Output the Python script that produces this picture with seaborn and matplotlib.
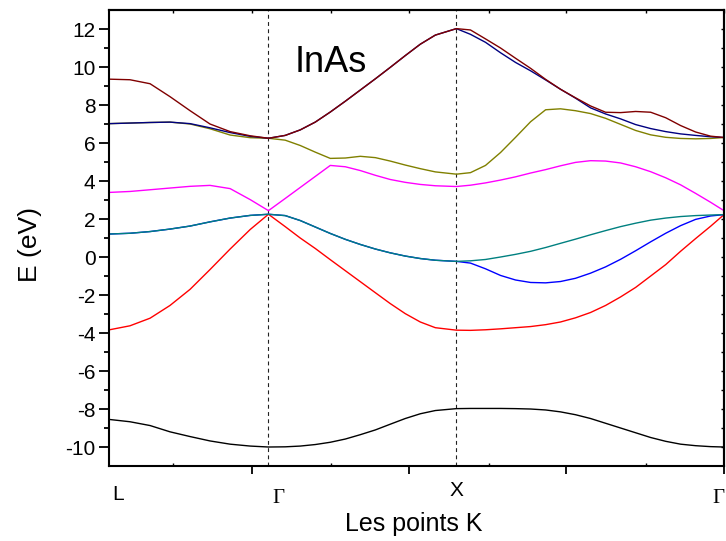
import numpy as np
import pandas as pd
import matplotlib
matplotlib.use("Agg")
import matplotlib.pyplot as plt
import seaborn as sns

# k path L - Gamma - X - Gamma (Gamma-X = 1)
k_L, k_G, k_X, k_G2 = 0.0, 0.846, 1.846, 3.270
k = [0.000, 0.109, 0.216, 0.322, 0.429, 0.535, 0.642, 0.749, 0.846,
     0.935, 1.015, 1.095, 1.175, 1.255, 1.335, 1.415, 1.494, 1.574, 1.654, 1.734, 1.846,
     1.921, 2.001, 2.081, 2.161, 2.241, 2.321, 2.400, 2.480, 2.560, 2.640, 2.720, 2.800,
     2.880, 2.960, 3.039, 3.119, 3.199, 3.270]

# energies (eV) of the eight bands along the path
band1 = [-8.55, -8.67, -8.87, -9.2, -9.45, -9.68, -9.85, -9.95, -10.0,
         -9.99, -9.95, -9.87, -9.75, -9.58, -9.35, -9.1, -8.8, -8.5, -8.25, -8.08, -7.98,
         -7.97, -7.97, -7.97, -7.98, -8.0, -8.05, -8.15, -8.3, -8.5, -8.75, -9.0, -9.25,
         -9.5, -9.7, -9.85, -9.93, -9.98, -10.0]
band2 = [-3.83, -3.62, -3.22, -2.55, -1.7, -0.66, 0.42, 1.45, 2.25,
         1.6, 1.0, 0.45, -0.14, -0.72, -1.3, -1.88, -2.45, -2.98, -3.42, -3.72, -3.85,
         -3.86, -3.83, -3.78, -3.72, -3.66, -3.56, -3.42, -3.2, -2.92, -2.55, -2.1, -1.6,
         -1.0, -0.4, 0.3, 0.97, 1.62, 2.23]
band3 = [1.21, 1.25, 1.34, 1.47, 1.63, 1.85, 2.05, 2.19, 2.25,
         2.18, 1.92, 1.58, 1.24, 0.93, 0.66, 0.42, 0.22, 0.05, -0.08, -0.17, -0.23,
         -0.32, -0.62, -0.97, -1.21, -1.34, -1.36, -1.29, -1.12, -0.85, -0.52, -0.12, 0.33,
         0.8, 1.25, 1.65, 1.98, 2.16, 2.23]
band4 = [1.21, 1.25, 1.34, 1.47, 1.63, 1.85, 2.05, 2.19, 2.25,
         2.18, 1.92, 1.58, 1.24, 0.93, 0.66, 0.42, 0.22, 0.05, -0.08, -0.17, -0.23,
         -0.2, -0.13, 0.0, 0.14, 0.3, 0.5, 0.72, 0.94, 1.17, 1.39, 1.6, 1.78,
         1.94, 2.05, 2.13, 2.18, 2.21, 2.23]
band5 = [3.40, 3.45, 3.54, 3.63, 3.72, 3.77, 3.6, 3.02, 2.44,
         3.08, 3.66, 4.24, 4.82, 4.75, 4.55, 4.3, 4.08, 3.93, 3.82, 3.75, 3.71,
         3.78, 3.9, 4.05, 4.22, 4.42, 4.6, 4.8, 4.98, 5.07, 5.05, 4.95, 4.75,
         4.49, 4.17, 3.8, 3.35, 2.88, 2.44]
band6 = [7.02, 7.05, 7.08, 7.1, 7.0, 6.75, 6.42, 6.28, 6.25,
         6.15, 5.87, 5.52, 5.19, 5.21, 5.3, 5.23, 5.05, 4.84, 4.65, 4.48, 4.36,
         4.44, 4.82, 5.5, 6.3, 7.12, 7.75, 7.8, 7.7, 7.55, 7.3, 6.98, 6.66,
         6.43, 6.3, 6.24, 6.22, 6.24, 6.29]
band7 = [7.02, 7.05, 7.08, 7.1, 7.02, 6.8, 6.55, 6.35, 6.25,
         6.4, 6.69, 7.1, 7.63, 8.2, 8.79, 9.38, 9.98, 10.6, 11.2, 11.68, 12.02,
         11.72, 11.3, 10.75, 10.24, 9.8, 9.32, 8.83, 8.36, 7.85, 7.53, 7.27, 6.97,
         6.76, 6.6, 6.48, 6.4, 6.33, 6.29]
band8 = [9.36, 9.33, 9.12, 8.44, 7.7, 7.0, 6.6, 6.38, 6.25,
         6.4, 6.69, 7.1, 7.63, 8.2, 8.79, 9.38, 9.98, 10.6, 11.2, 11.68, 12.02,
         11.95, 11.48, 11.0, 10.46, 9.93, 9.35, 8.83, 8.38, 7.95, 7.62, 7.6, 7.66,
         7.62, 7.33, 6.92, 6.58, 6.36, 6.29]

band_names = ["b1", "b2", "b3", "b4", "b5", "b6", "b7", "b8"]
band_colors = ["#000000", "#ff0000", "#0000ff", "#008080",
               "#ff00ff", "#808000", "#000080", "#800000"]

sym_labels = ["L", "\u0393", "X", "\u0393"]
x_major = [0.759, 1.596, 2.432, 3.270]
x_minor = [0.338, 1.177, 2.017, 2.857]

sns.set_theme(style="ticks")
plt.rcParams["font.family"] = ["Liberation Sans", "DejaVu Sans"]
plt.rcParams["axes.unicode_minus"] = False
plt.rcParams["axes.linewidth"] = 1.5
for key in ["text.color", "axes.labelcolor", "axes.edgecolor",
            "xtick.color", "ytick.color", "xtick.labelcolor", "ytick.labelcolor"]:
    plt.rcParams[key] = "black"

df = pd.concat([pd.DataFrame({"k": k, "E": e, "band": n})
                for n, e in zip(band_names,
                                [band1, band2, band3, band4, band5, band6, band7, band8])])

fig = plt.figure(figsize=(7.26, 5.41), dpi=100)
ax = fig.add_axes([0.1508, 0.1386, 0.9972 - 0.1508, 0.9815 - 0.1386])

sns.lineplot(data=df, x="k", y="E", hue="band", hue_order=band_names,
             palette=dict(zip(band_names, band_colors)), estimator=None,
             sort=False, legend=False, lw=1.0, ax=ax)

for xv in [k_G, k_X]:
    ax.axvline(xv, color="#222222", lw=0.8, ls=(0, (3.5, 3)), zorder=1)

ax.set_xlim(k_L, k_G2)
ax.set_ylim(-11, 13)

# x axis: unlabeled ticks, high-symmetry labels as text
ax.set_xticks(x_major)
ax.set_xticks(x_minor, minor=True)
ax.set_xticklabels([])
ax.tick_params(axis="x", which="major", direction="out", length=6, width=1.3)
ax.tick_params(axis="x", which="minor", direction="in", length=2, width=1.0)

ax.set_yticks(np.arange(-10, 13, 2))
ax.set_yticks(np.arange(-9, 13, 2), minor=True)
ax.tick_params(axis="y", which="major", direction="out", length=7, width=1.3,
               labelsize=15, pad=3)
ax.tick_params(axis="y", which="minor", direction="out", length=3.5, width=1.3)

top = ax.secondary_xaxis("top")
top.set_xticks(x_major)
top.set_xticks(x_minor, minor=True)
top.tick_params(which="both", direction="in", length=2, width=1.0, labeltop=False)
right = ax.secondary_yaxis("right")
right.set_yticks(np.arange(-10, 13, 2))
right.set_yticks(np.arange(-9, 13, 2), minor=True)
right.tick_params(which="both", direction="in", length=2, width=1.0, labelright=False)

trans = ax.get_xaxis_transform()
label_x = [k_L + 0.044, k_G + 0.052, k_X + 0.003, k_G2 - 0.03]
label_y = [-0.075, -0.081, -0.066, -0.081]
for lab, xv, yv in zip(sym_labels, label_x, label_y):
    fam = ["Liberation Serif"] if lab == "\u0393" else ["Liberation Sans"]
    ax.text(xv, yv, lab, transform=trans, ha="center", va="baseline",
            fontsize=15, family=fam, clip_on=False)

ax.text(0.302, 0.864, "InAs", transform=ax.transAxes, fontsize=26,
        ha="left", va="baseline")

ax.set_xlabel("Les points K", fontsize=18)
ax.set_ylabel("E (eV)", fontsize=19)
ax.xaxis.set_label_coords(0.495, -0.10)
ax.yaxis.set_label_coords(-0.11, 0.485)

fig.savefig("out.png", dpi=100)
